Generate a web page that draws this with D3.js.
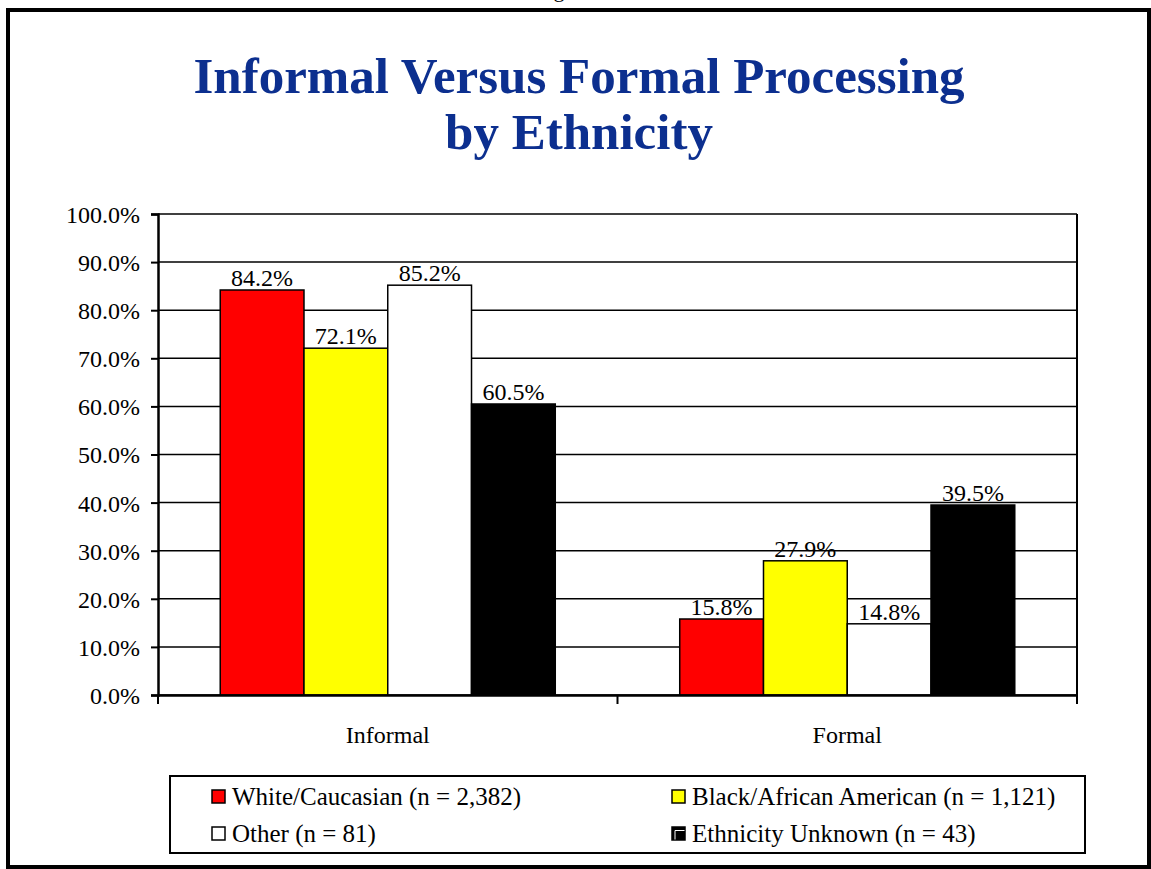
<!DOCTYPE html>
<html>
<head>
<meta charset="utf-8">
<script src="https://cdn.jsdelivr.net/npm/d3@7"></script>
<style>
  html, body { margin: 0; padding: 0; background: #fff; }
  svg { display: block; }
  text { font-family: "Liberation Serif", "Times New Roman", serif; }
</style>
</head>
<body>
<svg id="chart" width="1151" height="869"></svg>
<script>
// ---- data ----
const categories = ["Informal", "Formal"];
const series = ["White/Caucasian (n = 2,382)", "Black/African American (n = 1,121)", "Other (n = 81)", "Ethnicity Unknown (n = 43)"];
const whiteValues = [0.842, 0.158];
const blackValues = [0.721, 0.279];
const otherValues = [0.852, 0.148];
const unknownValues = [0.605, 0.395];
const yTicks = [0, 0.1, 0.2, 0.3, 0.4, 0.5, 0.6, 0.7, 0.8, 0.9, 1.0];
const titleLines = ["Informal Versus Formal Processing", "by Ethnicity"];

const seriesValues = [whiteValues, blackValues, otherValues, unknownValues];
const colors = ["#ff0000", "#ffff00", "#ffffff", "#000000"];

(function () {
const svg = d3.select("#chart");
const fmt = d3.format(".1%");

// cut-off text remnant at top (partially visible in the reference as well)
svg.append("text").attr("x", 559).attr("y", -3).attr("text-anchor", "middle")
  .attr("font-size", 22).text("g");

// outer frame
svg.append("rect").attr("x", 8).attr("y", 10).attr("width", 1141).attr("height", 857)
  .attr("fill", "none").attr("stroke", "#000").attr("stroke-width", 4);

// title
svg.append("g").selectAll("text").data(titleLines).join("text")
  .attr("x", 579).attr("y", (d, i) => 93 + i * 56)
  .attr("text-anchor", "middle").attr("font-size", 51).attr("font-weight", "bold")
  .attr("fill", "#0c2f8f").text(d => d);

// scales
const pL = 158, pR = 1077, pT = 214, pB = 695;
const y = d3.scaleLinear().domain([0, 1]).range([pB, pT]);
const x0 = d3.scaleBand().domain(categories).range([pL, pR]).padding(0);
const x1 = d3.scaleBand().domain(d3.range(series.length)).range([0, x0.bandwidth()])
  .paddingInner(0).paddingOuter(0.743);

// gridlines
svg.append("g").selectAll("line").data(yTicks).join("line")
  .attr("x1", pL).attr("x2", pR).attr("y1", d => y(d)).attr("y2", d => y(d))
  .attr("stroke", "#000").attr("stroke-width", 1.5);

// plot frame (right side)
svg.append("line").attr("x1", pR).attr("x2", pR).attr("y1", pT).attr("y2", pB)
  .attr("stroke", "#000").attr("stroke-width", 2);

// bars
const barData = [];
categories.forEach((c, ci) => {
  seriesValues.forEach((vals, si) => barData.push({ c, si, v: vals[ci] }));
});
svg.append("g").selectAll("rect").data(barData).join("rect")
  .attr("x", d => x0(d.c) + x1(d.si))
  .attr("y", d => y(d.v))
  .attr("width", x1.bandwidth())
  .attr("height", d => y(0) - y(d.v))
  .attr("fill", d => colors[d.si])
  .attr("stroke", "#000").attr("stroke-width", 1.5);

// value labels
svg.append("g").selectAll("text").data(barData).join("text")
  .attr("x", d => x0(d.c) + x1(d.si) + x1.bandwidth() / 2)
  .attr("y", d => y(d.v) - 4)
  .attr("text-anchor", "middle").attr("font-size", 24)
  .text(d => fmt(d.v));

// y axis
const yAxis = d3.axisLeft(y).tickValues(yTicks).tickFormat(fmt).tickSize(7).tickPadding(11);
const gy = svg.append("g").attr("transform", `translate(${pL},0)`).call(yAxis);
gy.select(".domain").attr("stroke", "#000").attr("stroke-width", 2.5);
gy.selectAll(".tick line").attr("stroke", "#000").attr("stroke-width", 2);
gy.selectAll(".tick text").attr("font-size", 24).attr("font-family", "Liberation Serif")
  .attr("fill", "#000").attr("dy", "0.35em");

// x axis
const xAxis = d3.axisBottom(x0).tickSize(0).tickPadding(22);
const gx = svg.append("g").attr("transform", `translate(0,${pB})`).call(xAxis);
gx.select(".domain").attr("stroke", "#000").attr("stroke-width", 2.5);
gx.selectAll(".tick text").attr("font-size", 24).attr("font-family", "Liberation Serif")
  .attr("fill", "#000").attr("dy", "1.1em");
// category separators
const seps = [pL, x0(categories[1]), pR];
gx.append("g").selectAll("line").data(seps).join("line")
  .attr("x1", d => d).attr("x2", d => d).attr("y1", 0).attr("y2", 9)
  .attr("stroke", "#000").attr("stroke-width", 2);

// legend
svg.append("rect").attr("x", 170).attr("y", 776).attr("width", 915).attr("height", 77)
  .attr("fill", "#fff").attr("stroke", "#000").attr("stroke-width", 2);
const legendPos = [[212, 805], [672, 805], [212, 842], [672, 842]];
const lg = svg.append("g").selectAll("g").data(series).join("g")
  .attr("transform", (d, i) => `translate(${legendPos[i][0]},${legendPos[i][1]})`);
lg.append("rect").attr("x", 0).attr("y", -15).attr("width", 13).attr("height", 13)
  .attr("fill", (d, i) => colors[i]).attr("stroke", "#000").attr("stroke-width", 1.5);
lg.filter((d, i) => i === 3).append("path")
  .attr("d", "M3,-2.5 V-11.5 H12.5").attr("fill", "none").attr("stroke", "#fff").attr("stroke-width", 1);
lg.append("text").attr("x", 20).attr("y", 0).attr("font-size", 25).text(d => d);
})();
</script>
</body>
</html>
